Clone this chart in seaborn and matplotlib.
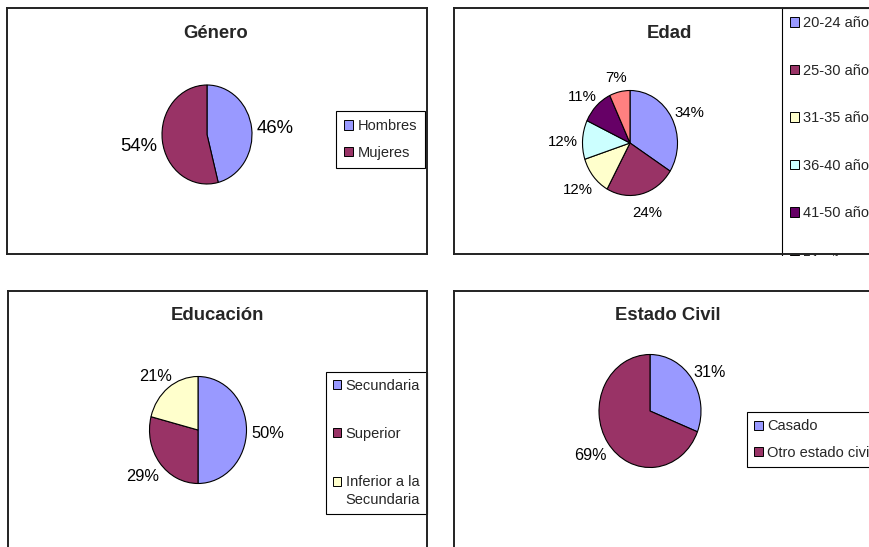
import matplotlib
matplotlib.use("Agg")
import matplotlib.pyplot as plt
from matplotlib.patches import Patch, Rectangle
from matplotlib.legend_handler import HandlerPatch
import numpy as np
import seaborn as sns

# ---------------- data ----------------
genero_labels = ["Hombres", "Mujeres"]
genero_values = [46, 54]

edad_labels = ["20-24 años", "25-30 años", "31-35 años", "36-40 años",
               "41-50 años", "51 años y más"]
edad_values = [34, 24, 12, 12, 11, 7]

educacion_labels = ["Secundaria", "Superior", "Inferior a la\nSecundaria"]
educacion_values = [50, 29, 21]

civil_labels = ["Casado", "Otro estado civil"]
civil_values = [31, 69]

titles = ["Género", "Edad", "Educación", "Estado Civil"]

# ---------------- style ----------------
sns.set_theme(style="white")
plt.rcParams["font.family"] = ["Liberation Sans", "DejaVu Sans"]
palette = sns.color_palette(["#9999FF", "#993366", "#FFFFCC",
                             "#CCFFFF", "#660066", "#FF8080"])

W, H = 870, 547
fig = plt.figure(figsize=(W / 100, H / 100), dpi=100)
fig.patch.set_facecolor("white")


def px_rect(x0, y0, x1, y1):
    return [x0 / W, 1 - y1 / H, (x1 - x0) / W, (y1 - y0) / H]


def panel(x0, y0, x1, y1):
    ax = fig.add_axes(px_rect(x0, y0, x1, y1), zorder=3)
    ax.patch.set_alpha(0)
    ax.set_xticks([])
    ax.set_yticks([])
    for s in ax.spines.values():
        s.set_visible(True)
        s.set_color("#222222")
        s.set_linewidth(1.4)
    return ax


class FirstLineHandler(HandlerPatch):
    """Puts the legend swatch next to the first line of a wrapped label."""

    def __init__(self, shift=0.0, **kw):
        super().__init__(**kw)
        self.shift = shift

    def create_artists(self, legend, orig_handle, xdescent, ydescent,
                       width, height, fontsize, trans):
        arts = super().create_artists(legend, orig_handle, xdescent, ydescent,
                                      width, height, fontsize, trans)
        for a in arts:
            a.set_y(a.get_y() + self.shift)
        return arts


pies = []


def pie(cx, cy, rx, ry, values, fs):
    ax = fig.add_axes(px_rect(cx - rx * 1.05, cy - ry * 1.05,
                              cx + rx * 1.05, cy + ry * 1.05), zorder=1)
    wedges, texts = ax.pie(
        values, colors=palette[:len(values)], startangle=90,
        counterclock=False, labels=[f"{v}%" for v in values],
        labeldistance=1.2,
        wedgeprops=dict(edgecolor="black", linewidth=0.8),
        textprops=dict(fontsize=fs, color="black"))
    ax.set_aspect("auto")
    ax.set_xlim(-1.05, 1.05)
    ax.set_ylim(-1.05, 1.05)
    pies.append((wedges, texts, rx, ry))
    return ax


def legend(ax, labels, n, x, y, spacing, pad, textpad=0.35, handles_map=None):
    handles = [Patch(facecolor=palette[i], edgecolor="black", linewidth=0.7)
               for i in range(n)]
    hmap = {}
    if handles_map:
        for i, h in handles_map.items():
            hmap[handles[i]] = h
    leg = ax.legend(handles, labels, loc="upper left",
                    bbox_to_anchor=(x / W, 1 - y / H),
                    bbox_transform=fig.transFigure, borderaxespad=0,
                    fontsize=10.5, frameon=True, fancybox=False,
                    edgecolor="black", framealpha=1, handlelength=0.6,
                    handleheight=0.6, handletextpad=textpad, borderpad=pad,
                    labelspacing=spacing, handler_map=hmap)
    leg.get_frame().set_linewidth(0.8)
    return leg


# panel frames
panel(7, 8, 427, 254)
panel(454, 8, 900, 254)
panel(8, 291, 427, 600)
panel(454, 291, 900, 600)

# white margin between the top-right chart and the one below it
fig.add_artist(Rectangle((440 / W, 1 - 290 / H), 1, 34.5 / H,
                         transform=fig.transFigure, facecolor="white",
                         edgecolor="none", zorder=2))

# Género
ax1 = pie(207, 134.5, 45, 49.5, genero_values, 13.3)
legend(ax1, genero_labels, 2, 336, 111, 0.87, 0.55)

# Edad
ax2 = pie(630, 143, 47.5, 52.5, edad_values, 10.8)
legend(ax2, edad_labels, 6, 782, 8, 2.3, 0.55, textpad=0.3)

# Educación
ax3 = pie(198, 430, 48.5, 53.5, educacion_values, 11.8)
leg3 = legend(ax3, educacion_labels, 3, 326, 372, 2.35, 0.45, textpad=0.3,
              handles_map={2: FirstLineHandler(shift=7.2)})
leg3.get_texts()[2].set_linespacing(1.37)

# Estado civil
ax4 = pie(650, 411, 51, 56.5, civil_values, 11.6)
legend(ax4, civil_labels, 2, 747, 412, 0.87, 0.5, textpad=0.3)

# titles
for t, (x, y) in zip(titles, [(216, 33), (669, 33), (217, 316), (668, 316)]):
    fig.text(x / W, 1 - y / H, t, fontsize=13.3, fontweight="bold",
             ha="center", va="center")

# place the percentage labels just outside each pie
fig.canvas.draw()
renderer = fig.canvas.get_renderer()
gap_x, gap_y, drop = 5.0, 10.0, 3.0
for wedges, texts, rx, ry in pies:
    for w, t in zip(wedges, texts):
        th = np.deg2rad((w.theta1 + w.theta2) / 2)
        t.set_ha("center")
        t.set_va("center")
        bb = t.get_window_extent(renderer)
        dx = np.cos(th) * (rx + gap_x + bb.width / 2) / rx
        dy = (np.sin(th) * (ry + gap_y + bb.height / 2) - drop) / ry
        t.set_position((dx, dy))

fig.savefig("out.png", dpi=100, facecolor="white")
